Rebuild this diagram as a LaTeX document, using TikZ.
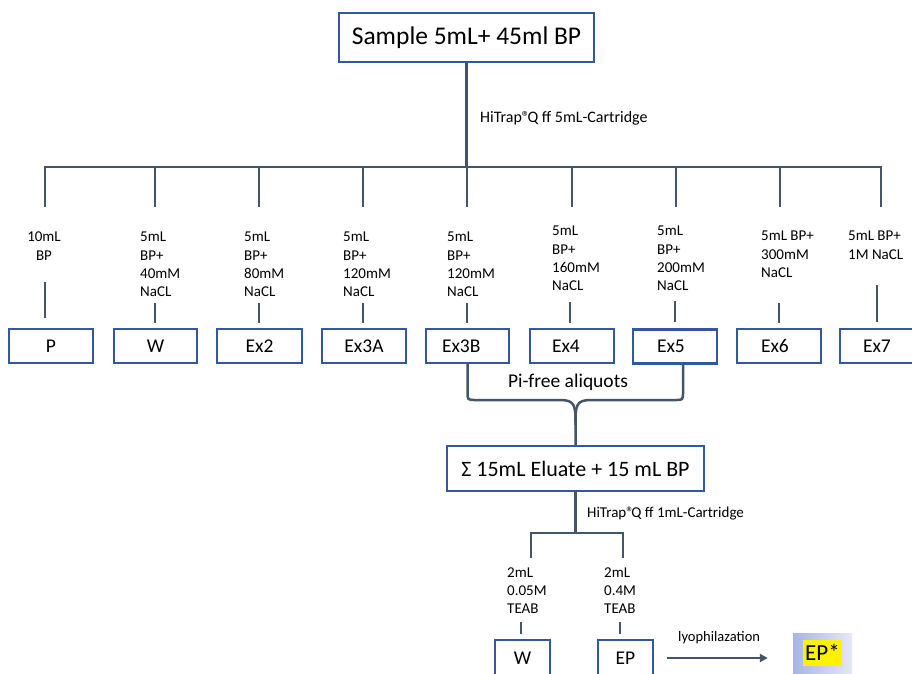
\documentclass[tikz,border=0pt]{standalone}
\usepackage{fontspec}
\setmainfont{Carlito}
\usetikzlibrary{arrows.meta}
\definecolor{lineC}{HTML}{44546A}
\definecolor{boxC}{RGB}{52,88,160}
\definecolor{gradL}{HTML}{A6B5E3}
\definecolor{gradR}{HTML}{E4E9F7}
\begin{document}
\begin{tikzpicture}[x=1pt,y=-1pt,
  box/.style={draw=boxC, line width=2.4pt, minimum height=34pt, inner ysep=0pt,
    font=\fontsize{19.5}{23}\selectfont, align=left},
  conn/.style={draw=lineC, line width=2.8pt},
  brace/.style={draw=lineC, line width=2.5pt},
  lbl/.style={font=\fontsize{15}{18.3}\selectfont, align=left, inner sep=0pt, anchor=north west},
  note/.style={inner sep=0pt, anchor=base west}]
\useasboundingbox (0,0) rectangle (912,673);

% top box
\node[box, minimum width=255pt, minimum height=49pt, font=\fontsize{25.5}{30}\selectfont] (top) at (466.5,37.5) {Sample 5mL+ 45ml BP};
\node[note, font=\fontsize{16}{19}\selectfont] (h1) at (480,122) {HiTrap®\kern-2.5pt Q ff 5mL-Cartridge};

% result boxes
\node[box, minimum width=84pt] (P) at (51,346) {P};
\node[box, minimum width=83pt] (W) at (155.5,346) {W};
\node[box, minimum width=85pt] (Ex2) at (259.5,346) {Ex2};
\node[box, minimum width=84pt] (Ex3A) at (364,346) {Ex3A};
\node[box, inner xsep=16pt, text width=51pt] (Ex3B) at (467.5,346) {Ex3B};
\node[box, inner xsep=22pt, text width=40pt] (Ex4) at (572,346) {Ex4};
\node[box, inner xsep=24pt, text width=36pt] (Ex5) at (675,346.5) {Ex5};
\node[box, inner xsep=24pt, text width=36pt] (Ex6) at (779,346) {Ex6};
\node[box, inner xsep=23pt, text width=29pt] (Ex7) at (877.5,346) {Ex7};

% labels
\node[lbl, align=center, anchor=north] (l1) at (44,232) {10mL\\BP};
\node[lbl] (l2) at (140,232) {5mL\\BP+\\40mM\\NaCL};
\node[lbl] (l3) at (244,232) {5mL\\BP+\\80mM\\NaCL};
\node[lbl] (l4) at (343,232) {5mL\\BP+\\120mM\\NaCL};
\node[lbl] (l5) at (447,232) {5mL\\BP+\\120mM\\NaCL};
\node[lbl] (l6) at (552,226) {5mL\\BP+\\160mM\\NaCL};
\node[lbl] (l7) at (657,226) {5mL\\BP+\\200mM\\NaCL};
\node[lbl] (l8) at (761,231) {5mL BP+\\300mM\\NaCL};
\node[lbl] (l9) at (848,231) {5mL BP+\\1M NaCL};

% bus
\coordinate (bus) at (0,167);
\foreach \x [count=\i] in {45,155,259,363,467,572,676,780,881}
  \coordinate (t\i) at (\x,207);
\draw[conn] (top.south) -- (top.south |- bus);
\draw[conn, line join=miter] (t1) -- (t1 |- bus) -- (t9 |- bus) -- (t9);
\foreach \i in {2,...,8} \draw[conn] (t\i |- bus) -- (t\i);

% short connectors to boxes
\coordinate (s1) at (45,282);
\coordinate (s2) at (155,303);
\coordinate (s3) at (259,303);
\coordinate (s4) at (363,303);
\coordinate (s5) at (467,303);
\coordinate (s6) at (570,302);
\coordinate (s7) at (675,301);
\coordinate (s8) at (779,303);
\coordinate (s9) at (877,285);
\draw[conn, shorten >=10pt] (s1) -- (s1 |- P.north);
\draw[conn, shorten >=5pt] (s2) -- (s2 |- W.north);
\draw[conn, shorten >=5pt] (s3) -- (s3 |- Ex2.north);
\draw[conn, shorten >=5pt] (s4) -- (s4 |- Ex3A.north);
\draw[conn, shorten >=5pt] (s5) -- (s5 |- Ex3B.north);
\draw[conn, shorten >=5pt] (s6) -- (s6 |- Ex4.north);
\draw[conn, shorten >=6pt] (s7) -- (s7 |- Ex5.north);
\draw[conn, shorten >=5pt] (s8) -- (s8 |- Ex6.north);
\draw[conn, shorten >=6pt] (s9) -- (s9 |- Ex7.north);

% pooled eluate
\node[box, minimum width=257pt, minimum height=45pt, font=\fontsize{22}{26}\selectfont] (sum) at (575.5,468.5) {Σ 15mL Eluate + 15 mL BP};
\node[font=\fontsize{19.5}{23}\selectfont, inner sep=0pt, anchor=base] (pf) at (568,387) {Pi-free aliquots};
\coordinate (brx) at (683,0);
\draw[brace] (Ex3B.south) -- (467.5,392) .. controls (467.5,400) .. (476,400) -- (560,400)
   .. controls (575.5,400) and (575.5,406) .. (575.5,425) -- (sum.north);
\draw[brace] (Ex5.south -| brx) -- (683,392) .. controls (683,400) .. (675,400) -- (591,400)
   .. controls (575.5,400) and (575.5,406) .. (575.5,425);

% second column
\node[note, font=\fontsize{15}{18}\selectfont] (h2) at (587,517) {HiTrap®\kern-2.5pt Q ff 1mL-Cartridge};
\coordinate (lbus) at (0,533);
\coordinate (u1) at (531,558);
\coordinate (u2) at (623,558);
\draw[conn] (sum.south) -- (sum.south |- lbus);
\draw[conn, line join=miter] (u1) -- (u1 |- lbus) -- (u2 |- lbus) -- (u2);

\node[lbl, font=\fontsize{15}{18}\selectfont] (m1) at (507,568) {2mL\\0.05M\\TEAB};
\node[lbl, font=\fontsize{15}{18}\selectfont] (m2) at (604,568) {2mL\\0.4M\\TEAB};

\node[box, minimum width=55pt, minimum height=36pt] (W2) at (522.5,658) {W};
\node[box, minimum width=55pt, minimum height=36pt] (EP) at (625.5,658) {EP};
\coordinate (v1) at (521,622);
\coordinate (v2) at (620,622);
\draw[conn, shorten >=5pt] (v1) -- (v1 |- W2.north);
\draw[conn, shorten >=5pt] (v2) -- (v2 |- EP.north);

\node[minimum width=59pt, minimum height=40pt, inner sep=0pt, left color=gradL, right color=gradR,
  font=\fontsize{23}{27}\selectfont] (EPs) at (822.5,653)
  {\setlength\fboxsep{2pt}\colorbox{yellow}{\rule[-4pt]{0pt}{22pt}EP*}};
\node[note, font=\fontsize{14.5}{17}\selectfont] (ly) at (678,641) {lyophilazation};
\draw[conn, line width=2pt, -{Triangle[length=8pt,width=8pt]}, shorten <=13pt, shorten >=25pt]
  (EP.east) -- (EP.east -| EPs.west);
\end{tikzpicture}
\end{document}
